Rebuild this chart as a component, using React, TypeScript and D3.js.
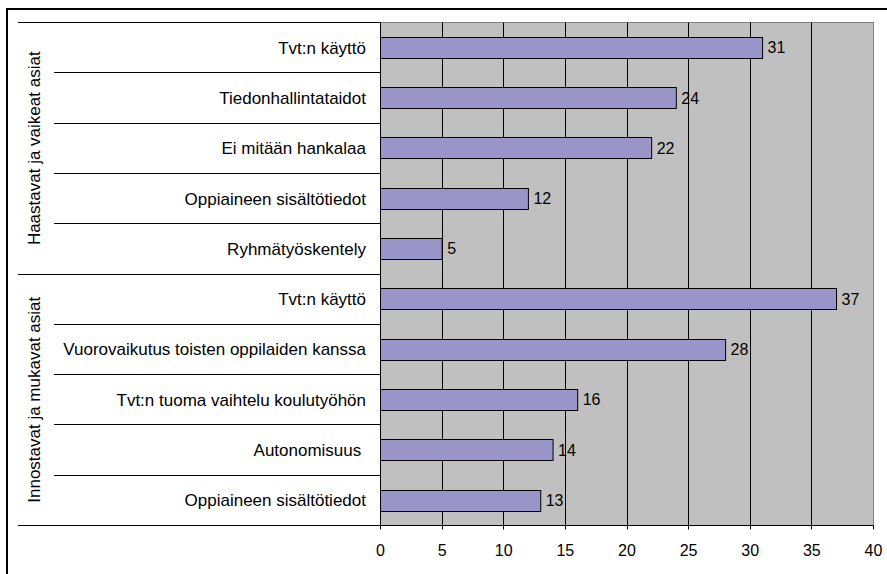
import React from "react";
import * as d3 from "d3";

const groups = ["Haastavat ja vaikeat asiat", "Innostavat ja mukavat asiat"];
const categories = [
  "Tvt:n käyttö",
  "Tiedonhallintataidot",
  "Ei mitään hankalaa",
  "Oppiaineen sisältötiedot",
  "Ryhmätyöskentely",
  "Tvt:n käyttö",
  "Vuorovaikutus toisten oppilaiden kanssa",
  "Tvt:n tuoma vaihtelu koulutyöhön",
  "Autonomisuus ",
  "Oppiaineen sisältötiedot",
];
const groupOf = [0, 0, 0, 0, 0, 1, 1, 1, 1, 1];
const values = [31, 24, 22, 12, 5, 37, 28, 16, 14, 13];
const xTicks = [0, 5, 10, 15, 20, 25, 30, 35, 40];

const W = 887;
const H = 574;
const FONT = "'Liberation Sans', Arial, sans-serif";

export default function App() {
  const left = 380.5;
  const right = 873.5;
  const top = 22.5;
  const bottom = 525.5;

  const x = d3.scaleLinear().domain([0, 40]).range([left, right]);
  const idx = categories.map((_, i) => i);
  const y = d3
    .scaleBand<number>()
    .domain(idx)
    .range([top, bottom])
    .paddingInner(0.59)
    .paddingOuter(0.295);
  const step = y.step();
  const rowTop = (i: number) => top + i * step;

  const crisp = (v: number) => Math.round(v - 0.5) + 0.5;

  // group spans
  const groupSpans = groups.map((g, gi) => {
    const members = idx.filter((i) => groupOf[i] === gi);
    const start = rowTop(members[0]);
    const end = rowTop(members[members.length - 1] + 1);
    return { g, start, end, first: members[0] };
  });

  return (
    <svg
      width={W}
      height={H}
      style={{ position: "absolute", left: 0, top: 0, background: "#fff" }}
      fontFamily={FONT}
    >
      {/* outer border (extends beyond view) */}
      <rect x={7} y={9} width={1000} height={700} fill="none" stroke="#000" strokeWidth={2} />

      {/* plot background */}
      <rect x={left} y={top} width={right - left} height={bottom - top} fill="#c0c0c0" stroke="#808080" strokeWidth={1} />

      {/* vertical gridlines */}
      {xTicks
        .filter((t) => t > 0 && t < 40)
        .map((t) => (
          <line key={"g" + t} x1={crisp(x(t))} x2={crisp(x(t))} y1={top} y2={bottom} stroke="#000" strokeWidth={1} />
        ))}

      {/* bars */}
      {values.map((v, i) => (
        <rect
          key={"b" + i}
          x={left}
          y={crisp(y(i)!)}
          width={x(v) - left}
          height={Math.round(y.bandwidth())}
          fill="#9995c9"
          stroke="#000"
          strokeWidth={1}
        />
      ))}

      {/* value labels */}
      {values.map((v, i) => (
        <text
          key={"v" + i}
          x={x(v) + 5}
          y={y(i)! + y.bandwidth() / 2}
          dy="0.35em"
          fontSize={16}
          fill="#000"
        >
          {v}
        </text>
      ))}

      {/* left axis line */}
      <line x1={left} x2={left} y1={top} y2={bottom} stroke="#000" strokeWidth={1} />

      {/* category separators */}
      {d3.range(categories.length + 1).map((k) => {
        const yy = crisp(rowTop(k));
        const isGroupEdge = k === 0 || k === categories.length || groupOf[k] !== groupOf[k - 1];
        return (
          <line
            key={"s" + k}
            x1={isGroupEdge ? 18 : 54}
            x2={left}
            y1={yy}
            y2={yy}
            stroke="#000"
            strokeWidth={1}
          />
        );
      })}

      {/* category labels */}
      {categories.map((c, i) => (
        <text
          key={"c" + i}
          x={366}
          y={y(i)! + y.bandwidth() / 2}
          dy="0.35em"
          textAnchor="end"
          fontSize={17}
          fill="#000"
          style={{ whiteSpace: "pre" }}
        >
          {c}
        </text>
      ))}

      {/* group labels */}
      {groupSpans.map((s, gi) => (
        <text
          key={"gl" + gi}
          transform={`translate(34,${(s.start + s.end) / 2}) rotate(-90)`}
          textAnchor="middle"
          dy="0.35em"
          fontSize={17}
          fill="#000"
        >
          {s.g}
        </text>
      ))}

      {/* x axis */}
      <line x1={18} x2={right} y1={bottom} y2={bottom} stroke="#000" strokeWidth={1} />
      {xTicks.map((t) => (
        <g key={"t" + t}>
          <line x1={crisp(x(t))} x2={crisp(x(t))} y1={bottom} y2={bottom + 4} stroke="#000" strokeWidth={1} />
          <text x={x(t)} y={556} textAnchor="middle" fontSize={16} fill="#000">
            {t}
          </text>
        </g>
      ))}
    </svg>
  );
}
